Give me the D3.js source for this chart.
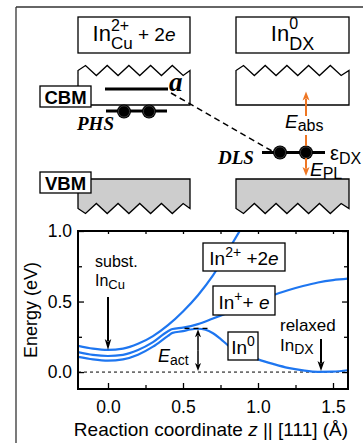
<!DOCTYPE html>
<html>
<head>
<meta charset="utf-8">
<script src="https://cdn.jsdelivr.net/npm/d3@7"></script>
<style>
body { margin: 0; background: #fff; }
svg { display: block; }
text { white-space: pre; }
</style>
</head>
<body>
<script>
// ---- data ----
const zDomain = [-0.2, 1.6];
const eDomain = [-0.12, 1.0];
const zMajor = [0, 0.5, 1.0, 1.5];
const zMinor = [0.25, 0.75, 1.25];
const eMajor = [0, 0.5, 1.0];
const eMinor = [0.25, 0.75];

// In2+ + 2e
const zIn2 = [-0.2, -0.1, 0, 0.1, 0.2, 0.3, 0.4, 0.5, 0.6, 0.7, 0.8, 0.9];
const eIn2 = [0.186, 0.166, 0.157, 0.166, 0.2, 0.255, 0.333, 0.43, 0.545, 0.685, 0.86, 1.04];
// In+ + e
const zIn1 = [-0.2, -0.1, 0, 0.1, 0.2, 0.3, 0.4, 0.43, 0.5, 0.6, 0.7, 0.8, 0.9, 1.0, 1.1, 1.2, 1.3, 1.4, 1.5, 1.6];
const eIn1 = [0.142, 0.122, 0.114, 0.122, 0.156, 0.212, 0.29, 0.305, 0.315, 0.34, 0.38, 0.42, 0.46, 0.5, 0.545, 0.58, 0.61, 0.635, 0.652, 0.662];
// In0
const zIn0 = [-0.2, -0.1, 0, 0.1, 0.2, 0.3, 0.4, 0.43, 0.5, 0.55, 0.6, 0.65, 0.7, 0.75, 0.8, 0.9, 1.0, 1.1, 1.2, 1.3, 1.4, 1.5, 1.6];
const eIn0 = [0.108, 0.09, 0.081, 0.09, 0.123, 0.18, 0.257, 0.278, 0.29, 0.302, 0.307, 0.3, 0.275, 0.235, 0.19, 0.13, 0.09, 0.058, 0.03, 0.012, 0.002, 0.003, 0.013];

const zBarrier = [0.51, 0.69];
const eBarrier = 0.31;
const zAct = 0.6;
const zSubst = 0, eSubst = 0.157;
const zRelaxed = 1.42, eRelaxed = 0.0;

const blue = "#1e76f0";
const orange = "#ee7623";
const grey = "#cdcdcd";
const sans = "'Liberation Sans', Arial, sans-serif";
const serif = "'Liberation Serif', 'Times New Roman', serif";

const svg = d3.select("body").append("svg").attr("width", 363).attr("height", 443)
  .attr("font-family", sans);

// figure frame
svg.append("line").attr("x1", 16).attr("x2", 363).attr("y1", 7).attr("y2", 7)
  .attr("stroke", "#666").attr("stroke-width", 2);
svg.append("line").attr("x1", 16).attr("x2", 16).attr("y1", 7).attr("y2", 443)
  .attr("stroke", "#333").attr("stroke-width", 1.3);

// rich text helper: segments placed one after another, "stack" starts at previous x
function label(g, x, y, segs, anchor) {
  const grp = g.append("g");
  let cursor = 0, prevStart = 0;
  segs.forEach(s => {
    const sx = s.stack ? prevStart : cursor;
    const t = grp.append("text").attr("x", sx).attr("y", s.dy || 0)
      .attr("font-size", s.fs).text(s.t);
    if (s.it) t.attr("font-style", "italic");
    if (s.bold) t.attr("font-weight", "bold");
    if (s.fam) t.attr("font-family", s.fam);
    const w = t.node().getComputedTextLength();
    prevStart = sx;
    cursor = Math.max(cursor, sx + w);
  });
  const dx = anchor === "middle" ? -cursor / 2 : anchor === "end" ? -cursor : 0;
  grp.attr("transform", `translate(${x + dx},${y})`);
  return grp;
}

function arrowV(g, x, y1, y2, color, headLen, headW, lw) {
  const dir = y2 > y1 ? 1 : -1;
  g.append("line").attr("x1", x).attr("x2", x).attr("y1", y1).attr("y2", y2 - dir * headLen * 0.8)
    .attr("stroke", color).attr("stroke-width", lw);
  g.append("path")
    .attr("d", `M${x},${y2} L${x - headW / 2},${y2 - dir * headLen} L${x},${y2 - dir * headLen * 0.75} L${x + headW / 2},${y2 - dir * headLen} Z`)
    .attr("fill", color);
}

// ---- top schematic ----
const schem = svg.append("g");
const colL = [78, 190], colR = [236, 349];

// boxes with state labels
[colL, colR].forEach(c => {
  schem.append("rect").attr("x", c[0]).attr("y", 17).attr("width", c[1] - c[0]).attr("height", 36)
    .attr("fill", "#fff").attr("stroke", "#000").attr("stroke-width", 1.3);
});
label(schem, (colL[0] + colL[1]) / 2, 41, [
  { t: "In", fs: 22 },
  { t: "Cu", fs: 17, dy: 8 },
  { t: "2+", fs: 16, dy: -10, stack: true },
  { t: " + 2", fs: 19 },
  { t: "e", fs: 19, it: true }
], "middle");
label(schem, (colR[0] + colR[1]) / 2, 41, [
  { t: "In", fs: 22 },
  { t: "DX", fs: 18, dy: 9 },
  { t: "0", fs: 16, dy: -12, stack: true }
], "middle");

// zigzag edge
function zig(x0, x1, yMid, amp, up) {
  const pts = [[x0, yMid]];
  let xx = x0 + 7.5, k = 0;
  while (xx < x1 - 2) {
    const peak = (k % 2 === 0) === up;
    pts.push([xx, peak ? yMid - amp : yMid + amp]);
    xx += 10.85; k++;
  }
  pts.push([x1, yMid]);
  return pts;
}
const lineGen = d3.line();

// conduction bands
[colL, colR].forEach(c => {
  const z = zig(c[0], c[1], 70.5, 5, true);
  const pts = [[c[0], 105]].concat(z).concat([[c[1], 105]]);
  schem.append("path").attr("d", lineGen(pts) + "Z")
    .attr("fill", "#fff").attr("stroke", "#000").attr("stroke-width", 1.3);
});
// valence bands
[colL, colR].forEach(c => {
  const z = zig(c[0], c[1], 208.5, 5, false);
  const pts = [[c[0], 179]].concat(z).concat([[c[1], 179]]);
  schem.append("path").attr("d", lineGen(pts) + "Z")
    .attr("fill", grey).attr("stroke", "#000").attr("stroke-width", 1.3);
});

// CBM / VBM tags
[["CBM", 86], ["VBM", 172]].forEach(([t, yy]) => {
  schem.append("rect").attr("x", 40).attr("y", yy).attr("width", 51).attr("height", 21)
    .attr("fill", "#fff").attr("stroke", "#000").attr("stroke-width", 1.3);
  schem.append("text").attr("x", 65.5).attr("y", yy + 17.5).attr("text-anchor", "middle")
    .attr("font-size", 18.5).attr("font-weight", "bold").text(t);
});

// dashed link a -> DLS
schem.append("line").attr("x1", 171).attr("y1", 93).attr("x2", 272).attr("y2", 151)
  .attr("stroke", "#000").attr("stroke-width", 1.5).attr("stroke-dasharray", "6,4");

// levels
schem.append("line").attr("x1", 105).attr("x2", 168).attr("y1", 89).attr("y2", 89)
  .attr("stroke", "#000").attr("stroke-width", 3);
schem.append("line").attr("x1", 106).attr("x2", 167).attr("y1", 111).attr("y2", 111)
  .attr("stroke", "#000").attr("stroke-width", 3);
schem.append("line").attr("x1", 262).attr("x2", 325).attr("y1", 152.5).attr("y2", 152.5)
  .attr("stroke", "#000").attr("stroke-width", 3);
[[124, 111.5], [149, 111.5], [280, 152.5], [306, 152.5]].forEach(([cx, cy]) => {
  schem.append("circle").attr("cx", cx).attr("cy", cy).attr("r", 7).attr("fill", "#000");
  schem.append("circle").attr("cx", cx).attr("cy", cy).attr("r", 5.6).attr("fill", "none")
    .attr("stroke", "#555").attr("stroke-width", 0.7);
});

schem.append("text").attr("x", 169).attr("y", 91).attr("font-family", serif)
  .attr("font-size", 27).attr("font-weight", "bold").attr("font-style", "italic").text("a");
schem.append("text").attr("x", 77).attr("y", 130).attr("font-family", serif)
  .attr("font-size", 19).attr("font-weight", "bold").attr("font-style", "italic").text("PHS");
schem.append("text").attr("x", 218).attr("y", 164).attr("font-family", serif)
  .attr("font-size", 19).attr("font-weight", "bold").attr("font-style", "italic").text("DLS");

label(schem, 330, 160, [
  { t: "ε", fs: 20 },
  { t: "DX", fs: 16, dy: 4 }
]);

// optical transitions
schem.append("line").attr("x1", 306).attr("x2", 306).attr("y1", 146).attr("y2", 135)
  .attr("stroke", orange).attr("stroke-width", 2);
arrowV(schem, 306, 116, 91.5, orange, 9, 7, 2);
label(schem, 285, 128, [
  { t: "E", fs: 19, it: true },
  { t: "abs", fs: 16, dy: 3 }
]);
arrowV(schem, 306, 158, 176, orange, 9, 7, 2);
label(schem, 310, 176, [
  { t: "E", fs: 19, it: true },
  { t: "PL", fs: 16, dy: 3 }
]);

// ---- energy plot ----
const x = d3.scaleLinear().domain(zDomain).range([78, 348]);
const y = d3.scaleLinear().domain(eDomain).range([389, 231]);
const plot = svg.append("g");

plot.append("clipPath").attr("id", "clip").append("rect")
  .attr("x", 78).attr("y", 231).attr("width", 270).attr("height", 158);

// zero line
plot.append("line").attr("x1", x(zDomain[0])).attr("x2", x(zDomain[1]))
  .attr("y1", y(0)).attr("y2", y(0))
  .attr("stroke", "#000").attr("stroke-width", 1).attr("stroke-dasharray", "3,3");

const curve = d3.line().x(d => x(d[0])).y(d => y(d[1])).curve(d3.curveMonotoneX);
[[zIn2, eIn2], [zIn1, eIn1], [zIn0, eIn0]].forEach(([zs, es]) => {
  plot.append("path").datum(zs.map((z, i) => [z, es[i]]))
    .attr("d", curve).attr("clip-path", "url(#clip)")
    .attr("fill", "none").attr("stroke", blue).attr("stroke-width", 2.2);
});

// axes
function styleAxis(g) {
  g.select(".domain").remove();
  g.attr("font-family", sans);
  g.selectAll(".tick line").attr("stroke", "#000").attr("stroke-width", 1.3);
  g.selectAll("text").attr("font-size", 17.5).attr("fill", "#000");
}
plot.append("g").attr("transform", "translate(78,0)")
  .call(d3.axisLeft(y).tickValues(eMajor).tickFormat(d3.format(".1f")).tickSizeInner(-6).tickSizeOuter(0).tickPadding(6))
  .call(styleAxis);
plot.append("g").attr("transform", "translate(78,0)")
  .call(d3.axisLeft(y).tickValues(eMinor).tickFormat("").tickSizeInner(-4).tickSizeOuter(0))
  .call(styleAxis);
plot.append("g").attr("transform", "translate(348,0)")
  .call(d3.axisRight(y).tickValues(eMajor).tickFormat("").tickSizeInner(-6).tickSizeOuter(0))
  .call(styleAxis);
plot.append("g").attr("transform", "translate(348,0)")
  .call(d3.axisRight(y).tickValues(eMinor).tickFormat("").tickSizeInner(-4).tickSizeOuter(0))
  .call(styleAxis);
plot.append("g").attr("transform", "translate(0,389)")
  .call(d3.axisBottom(x).tickValues(zMajor).tickFormat(d3.format(".1f")).tickSizeInner(-6).tickSizeOuter(0).tickPadding(12))
  .call(styleAxis);
plot.append("g").attr("transform", "translate(0,389)")
  .call(d3.axisBottom(x).tickValues(zMinor).tickFormat("").tickSizeInner(-4).tickSizeOuter(0))
  .call(styleAxis);
plot.append("g").attr("transform", "translate(0,231)")
  .call(d3.axisTop(x).tickValues(zMajor.concat(zMinor)).tickFormat("").tickSizeInner(-3).tickSizeOuter(0))
  .call(styleAxis);

plot.append("rect").attr("x", 78).attr("y", 231).attr("width", 270).attr("height", 158)
  .attr("fill", "none").attr("stroke", "#000").attr("stroke-width", 2);

// axis titles
plot.append("text").attr("transform", "translate(37,310) rotate(-90)")
  .attr("text-anchor", "middle").attr("font-size", 18).text("Energy (eV)");
label(plot, 211, 436, [
  { t: "Reaction coordinate ", fs: 19 },
  { t: "z", fs: 19, it: true },
  { t: " || [111] (Å)", fs: 19 }
], "middle");

// state boxes
function stateBox(x0, y0, w, h, segs) {
  plot.append("rect").attr("x", x0).attr("y", y0).attr("width", w).attr("height", h)
    .attr("fill", "#fff").attr("stroke", "#000").attr("stroke-width", 1.3);
  label(plot, x0 + w / 2, y0 + h - 6, segs, "middle");
}
stateBox(203, 243, 82, 28, [
  { t: "In", fs: 19 }, { t: "2+", fs: 14, dy: -8 }, { t: " +2", fs: 19 }, { t: "e", fs: 19, it: true }
]);
stateBox(213, 286, 62, 29, [
  { t: "In", fs: 19 }, { t: "+", fs: 14, dy: -8 }, { t: "+ ", fs: 19 }, { t: "e", fs: 19, it: true }
]);
stateBox(228, 332, 30, 28, [
  { t: "In", fs: 19 }, { t: "0", fs: 14, dy: -8 }
]);

// annotations
plot.append("text").attr("x", x(zSubst) - 13).attr("y", 267).attr("font-size", 16).text("subst.");
label(plot, x(zSubst) - 13, 286, [{ t: "In", fs: 16 }, { t: "Cu", fs: 13, dy: 3 }]);
arrowV(plot, x(zSubst), 297, y(eSubst), "#000", 11, 6.5, 2);

plot.append("text").attr("x", 280).attr("y", 331).attr("font-size", 17).text("relaxed");
label(plot, 280, 351, [{ t: "In", fs: 17 }, { t: "DX", fs: 14, dy: 3 }]);
arrowV(plot, x(zRelaxed), 339, y(eRelaxed) - 1, "#000", 10, 7, 2);

// activation energy
plot.append("line").attr("x1", x(zBarrier[0])).attr("x2", x(zBarrier[1]))
  .attr("y1", y(eBarrier)).attr("y2", y(eBarrier))
  .attr("stroke", "#000").attr("stroke-width", 1.3).attr("stroke-dasharray", "5,4");
arrowV(plot, x(zAct), (y(eBarrier) + y(0)) / 2, y(eBarrier) + 1, "#000", 8, 6, 1.5);
arrowV(plot, x(zAct), (y(eBarrier) + y(0)) / 2, y(0) - 1, "#000", 8, 6, 1.5);
label(plot, 158, 362, [{ t: "E", fs: 18, it: true }, { t: "act", fs: 14, dy: 3 }]);
</script>
</body>
</html>
